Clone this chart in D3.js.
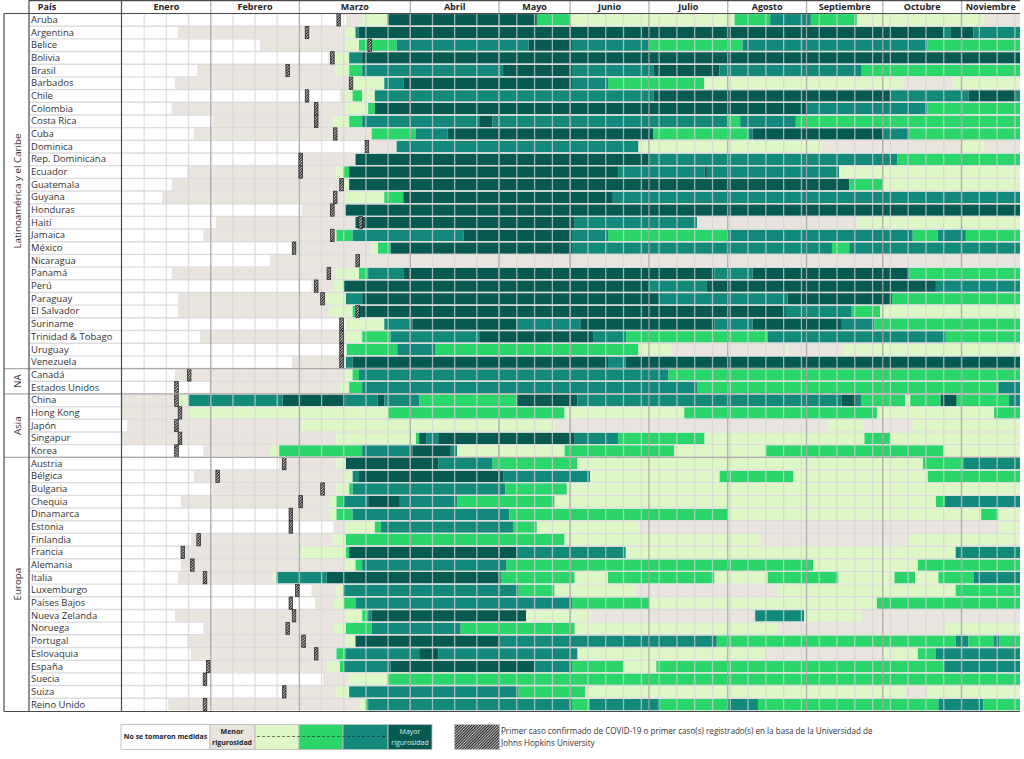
<!DOCTYPE html>
<html lang="es"><head><meta charset="utf-8">
<script src="https://cdn.jsdelivr.net/npm/d3@7/dist/d3.min.js"></script>
<style>html,body{margin:0;padding:0;background:#fff}svg{display:block}text{font-family:"Open Sans","Noto Sans",sans-serif}</style>
</head><body><svg id="c" width="1024" height="759"></svg>
<script>
const monthNames=["Enero","Febrero","Marzo","Abril","Mayo","Junio","Julio","Agosto","Septiembre","Octubre","Noviembre"];
const monthStarts=[0,28,56,91,119,147,178,209,240,270,301];
const lastDay=324;
const groups=[["Latinoamérica y el Caribe",28],["NA",2],["Asia",5],["Europa",20]];
const countries=["Aruba","Argentina","Belice","Bolivia","Brasil","Barbados","Chile","Colombia","Costa Rica","Cuba","Dominica","Rep. Dominicana","Ecuador","Guatemala","Guyana","Honduras","Haití","Jamaica","México","Nicaragua","Panamá","Perú","Paraguay","El Salvador","Suriname","Trinidad & Tobago","Uruguay","Venezuela","Canadá","Estados Unidos","China","Hong Kong","Japón","Singapur","Korea","Austria","Bélgica","Bulgaria","Chequia","Dinamarca","Estonia","Finlandia","Francia","Alemania","Italia","Luxemburgo","Países Bajos","Nueva Zelanda","Noruega","Portugal","Eslovaquia","España","Suecia","Suiza","Reino Unido"];
const firstCase=[68.4,58.4,78.2,66.4,52.3,72.3,58.4,61.3,61.3,67.3,77.3,56.4,56.4,69.3,67.3,66.4,75.3,66.4,54.3,74.4,65.3,61.3,63.3,74.4,69.3,69.3,69.3,69.3,21.2,17.2,17.2,18.3,17.2,18.3,17.2,51.2,30.2,63.3,56.4,53.3,53.3,24.2,19.2,22.2,26.2,55.3,53.3,54.3,52.3,57.3,61.3,27.2,26.2,51.2,26.2];
// level per stretch: [first day, level] — 0 none, 1 lowest ... 5 highest
const stringency=[
[[0,0],[70.7,1],[75.8,2],[83.8,5],[133.9,3],[147,2],[211.7,3],[225.7,4],[241.7,3],[259.8,2],[309.7,1]],
[[0,0],[17.6,1],[70.6,2],[73.7,4],[74.7,5],[294,4],[296.8,5],[305.7,4]],
[[0,0],[43.6,1],[70.6,2],[74.8,3],[86.7,4],[130.7,5],[147.7,4],[178,3],[214.8,4],[287.6,3]],
[[0,0],[65.1,1],[67.4,2],[71.7,4],[75.8,5]],
[[0,0],[23.7,1],[67.7,2],[71.7,3],[75.8,4],[120.6,5],[147.7,4],[179.8,5],[205.8,4],[261.7,3]],
[[0,0],[16.7,1],[73,2],[82.8,4],[88.8,5],[147.7,4],[161.9,3],[199.7,2],[277.8,1],[297.8,2]],
[[0,0],[68.8,1],[70.6,2],[72.8,3],[75.8,2],[79.8,4],[179.8,5],[272.9,4],[303.7,5],[322.7,4]],
[[0,0],[15.7,1],[70.6,2],[77.7,3],[79.8,5],[239.9,4],[287.6,3]],
[[0,0],[28.6,1],[66.7,2],[71.7,3],[75.8,4],[113,5],[117,4],[208.9,3],[213.9,4],[235.8,3]],
[[0,0],[22.6,1],[78.8,3],[92.8,4],[102.8,5],[179.8,3],[216.9,4],[218.8,5],[269.9,4],[280.4,3]],
[[0,0],[77.2,1],[86.7,4],[173.9,2],[246,1],[300.8,2],[309.6,1]],
[[0,0],[56.5,1],[73.7,5],[178,4],[275.8,3]],
[[0,0],[20.6,1],[67.7,2],[69.8,3],[71.7,5],[165.8,4],[199.9,5],[200.8,4],[252.8,2]],
[[0,0],[15.7,1],[69.8,2],[71.7,5],[256.8,3],[269.9,2]],
[[0,0],[12.7,1],[70.6,2],[82.8,3],[88.8,5],[163.8,4]],
[[0,0],[56.7,1],[70.6,5]],
[[0,0],[29.6,1],[73.7,5],[148.8,4],[196.9,1],[259.8,2]],
[[0,0],[25.7,1],[67.7,3],[72.8,4],[107.9,5],[147.7,4],[161.9,3],[208.9,4],[281.8,3],[291.6,4],[302.7,3]],
[[0,0],[54.6,1],[78.8,2],[80.8,3],[84.8,5],[147.7,4],[250,3],[256.8,4]],
[[0,0],[46.7,1]],
[[0,0],[15.7,1],[67.7,2],[74.8,3],[77.7,4],[88.8,5],[203.7,4],[218.8,5],[280.4,3]],
[[0,0],[59.8,1],[66.9,2],[70,5],[178.1,4],[200.8,5],[290.9,4]],
[[0,0],[17.6,1],[64.4,2],[70.7,4],[75.8,5],[182,4],[232.6,5],[273.6,3]],
[[0,0],[17.6,1],[65.6,2],[72.8,3],[73.8,5],[231.9,4],[257.8,3],[269,2]],
[[0,0],[70.6,2],[82.8,4],[91.7,5],[126,4],[151,5],[203.7,4],[218.8,5],[253.9,4],[266.7,3]],
[[0,0],[24.6,1],[70.6,2],[75.8,3],[84.8,4],[113,5],[156,4],[169,3],[224.7,4],[294.8,3]],
[[0,0],[70.9,3],[86.9,4],[98.8,3],[173.9,2],[187,1],[232,2],[232.9,1],[254.8,2]],
[[0,0],[53.7,1],[70.7,4],[72.8,5],[161.9,4],[168.9,5]],
[[0,0],[16.7,1],[70.6,2],[72.8,3],[74.8,4],[185.7,3]],
[[0,0],[27.6,1],[68.8,2],[71.7,3],[75.8,4],[196.9,3],[315.5,4]],
[[0,1],[17.2,2],[20.9,4],[50.7,5],[70.6,4],[80.7,5],[82.8,4],[93.8,3],[126,5],[149.9,4],[253.9,5],[259.8,4],[261.7,3],[278.8,2],[280.8,3],[292.8,5],[299.1,3],[319.7,4]],
[[0,1],[20.7,2],[84,3],[144.8,2],[191.9,3],[267.7,2],[313.8,3]],
[[0,0],[1.6,1],[56.7,2],[140.9,1],[248.6,2],[262.7,1],[281.8,2]],
[[0,1],[67.7,2],[92.8,3],[93.8,5],[96,4],[99.8,5],[148.8,4],[165.8,3],[199.9,2],[262.8,3],[272.9,2]],
[[0,0],[25.7,1],[46.7,2],[49.6,3],[75.8,4],[91.7,5],[103.8,4],[105.8,2],[144.8,3],[187.9,2],[224,3],[293.9,2]],
[[0,0],[49.6,1],[67.7,2],[70.7,5],[99.8,4],[117,3],[149.9,2],[285.8,3],[301.7,4]],
[[0,0],[22.6,1],[69.8,2],[72.8,4],[74.8,5],[120.6,4],[154.9,2],[205.8,3],[234.9,2],[287.7,3]],
[[0,0],[28.6,1],[67.7,2],[71.7,3],[72.8,4],[121.5,3],[145.7,2]],
[[0,0],[18.6,1],[65.6,2],[67.7,3],[69.8,4],[77.7,5],[87.7,4],[105.8,3],[140.9,2],[290.9,3],[294.5,4]],
[[0,0],[53.3,1],[65.6,2],[67.7,3],[72.8,4],[123,3],[208.9,2],[308.7,3],[315.5,2]],
[[0,0],[66.7,1],[70.6,2],[79.8,3],[81.7,4],[124.5,3],[133.9,2],[173.9,1],[315.8,2]],
[[0,0],[21.8,1],[66.7,2],[70.7,3],[144.8,2],[221.8,1],[279.8,2]],
[[0,0],[19.9,1],[56.7,2],[70.7,3],[71.7,5],[126,4],[168.9,2],[298.7,4]],
[[0,0],[18.6,1],[70.6,2],[73.7,3],[75.8,4],[122,3],[242.7,2],[283.8,3]],
[[0,0],[17.6,1],[47.7,2],[48.8,4],[64.6,5],[119.7,3],[148.8,2],[161.9,3],[203.8,2],[224.7,3],[252.6,2],[274.6,3],[282.7,2],[291.9,3],[305.7,4]],
[[0,0],[59.8,1],[67.7,2],[69.8,4],[126.7,3],[140.9,2],[173,1],[228.7,2],[298.7,3]],
[[0,0],[60.9,1],[66.9,2],[70,3],[73.7,4],[147.7,3],[178,2],[267.7,3]],
[[0,0],[16.7,1],[70.6,2],[75.8,3],[77.7,4],[78.8,5],[129.7,2],[154.9,1],[219.8,4],[239.1,2],[261.7,1]],
[[0,0],[25.7,1],[66.9,2],[70.7,3],[78.8,4],[106.9,3],[148.8,2],[228.7,1],[294.8,2]],
[[0,0],[20.6,1],[70.6,2],[73.7,5],[119.7,4],[204.7,3],[298.7,4],[303.7,3],[313.8,4],[315.8,3],[321.4,4],[322.3,3]],
[[0,0],[21.7,1],[67.7,3],[70.7,4],[93.8,5],[99.8,4],[149.9,2],[224,1],[269.9,2],[283.8,3],[290.9,4]],
[[0,0],[26.7,1],[64.8,2],[68.8,3],[69.8,4],[84.8,5],[132.9,4],[147.7,3],[168,2],[180.9,3],[294.1,4]],
[[0,0],[63.5,1],[71.7,2],[83.8,3]],
[[0,0],[51.7,1],[67.7,2],[71.7,4],[126.7,3],[153,2],[278.8,1],[287.7,2]],
[[0,0],[14.6,1],[74.8,2],[76.9,3],[77.7,4],[147.7,3],[154.6,4],[182.4,3],[209,4],[220.9,3],[291.9,4],[309.6,3]]
];
const levelColors=["#ffffff","#e9e4de","#ddf7c6","#2ad66a","#13897b","#065a52"];
const legendLevels=[0,1,2,3,4,5];
const legendText="Primer caso confirmado de COVID-19 o primer caso(s) registrado(s) en la basa de la Universidad de";
const legendText2="Johns Hopkins University";

const svg=d3.select("#c");
const top0=13.5, step=12.68, left=122;
const x=d3.scaleLinear().domain([0,119,lastDay]).range([left,499,1020]);
const y=d3.scaleBand().domain(countries).range([top0,top0+step*countries.length]);
const defs=svg.append("defs");
const p=defs.append("pattern").attr("id","hatch").attr("patternUnits","userSpaceOnUse").attr("width",2).attr("height",2).attr("patternTransform","rotate(45)");
p.append("rect").attr("width",2).attr("height",2).attr("fill","#dcdcdc");
p.append("rect").attr("width",1.15).attr("height",2).attr("fill","#222");

// bars
const rows=svg.append("g").selectAll("g").data(countries).join("g").attr("transform",c=>`translate(0,${y(c)})`);
rows.each(function(c,i){
  const segs=stringency[i];
  d3.select(this).selectAll("rect").data(segs).join("rect")
    .attr("x",d=>x(d[0])).attr("y",0.6)
    .attr("width",(d,j)=>x(j+1<segs.length?segs[j+1][0]:lastDay)-x(d[0]))
    .attr("height",step-1.2)
    .attr("fill",d=>levelColors[d[1]]);
});
// horizontal rules
svg.append("g").selectAll("line").data(d3.range(1,countries.length)).join("line")
  .attr("x1",29).attr("x2",1020).attr("y1",i=>top0+i*step).attr("y2",i=>top0+i*step)
  .attr("stroke","#dcdcdc").attr("stroke-width",1.4);
// week grid
svg.append("g").selectAll("line").data(d3.range(7,lastDay,7)).join("line")
  .attr("x1",d=>x(d)).attr("x2",d=>x(d)).attr("y1",top0).attr("y2",711.5)
  .attr("stroke","#d4d4d4").attr("stroke-opacity",.72).attr("stroke-width",1.3);
// month grid
svg.append("g").selectAll("line").data(monthStarts.slice(1)).join("line")
  .attr("x1",d=>x(d)).attr("x2",d=>x(d)).attr("y1",0).attr("y2",711.5)
  .attr("stroke","#a8a8a8").attr("stroke-opacity",.9).attr("stroke-width",1.3);
// first-case markers
svg.append("g").selectAll("rect").data(firstCase).join("rect")
  .attr("x",d=>x(d)-1.8).attr("width",3.6).attr("y",(d,i)=>y(countries[i])+.2).attr("height",step-.4)
  .attr("fill","url(#hatch)").attr("stroke","#222").attr("stroke-width",.7);
// group separators & frame
let acc=0;
const groupTops=groups.map(g=>{const t=acc;acc+=g[1];return t;});
svg.append("g").selectAll("line").data(groupTops.slice(1)).join("line")
  .attr("x1",4).attr("x2",1020).attr("y1",t=>top0+t*step).attr("y2",t=>top0+t*step)
  .attr("stroke","#aaaaaa").attr("stroke-width",1.2);
const dark="#4a4a4a";
const fr=svg.append("g").attr("stroke",dark).attr("stroke-width",1.2);
fr.append("line").attr("x1",29).attr("x2",1020).attr("y1",.6).attr("y2",.6);
fr.append("line").attr("x1",4).attr("x2",1020).attr("y1",top0).attr("y2",top0);
fr.append("line").attr("x1",4).attr("x2",1020).attr("y1",711.5).attr("y2",711.5);
fr.append("line").attr("x1",4).attr("x2",4).attr("y1",top0).attr("y2",711.5);
fr.append("line").attr("x1",29).attr("x2",29).attr("y1",0).attr("y2",711.5);
fr.append("line").attr("x1",121.5).attr("x2",121.5).attr("y1",0).attr("y2",711.5);
// labels
svg.append("g").selectAll("text").data(countries).join("text")
  .attr("x",31).attr("y",c=>y(c)+step/2+3).attr("font-size",9.5).attr("fill","#333").text(c=>c);
svg.append("text").attr("x",47).attr("y",10.2).attr("text-anchor","middle").attr("font-size",9).attr("font-weight",700).attr("fill","#222").text("País");
svg.append("g").selectAll("text").data(monthNames).join("text")
  .attr("x",(m,i)=>(x(monthStarts[i])+x(i+1<monthStarts.length?monthStarts[i+1]:lastDay))/2).attr("y",10.2)
  .attr("text-anchor","middle").attr("font-size",9).attr("font-weight",700).attr("fill","#222").text(m=>m);
svg.append("g").selectAll("text").data(groups).join("text")
  .attr("transform",(g,i)=>`translate(20.5,${top0+(groupTops[i]+g[1]/2)*step}) rotate(-90)`)
  .attr("text-anchor","middle").attr("font-size",9.8).attr("fill","#333").text(g=>g[0]);
// legend
const lx=d3.scaleOrdinal().domain(legendLevels).range([121,210,255,299,343,388]);
const lw=[89,45,44,44,45,44];
const lg=svg.append("g");
lg.selectAll("rect").data(legendLevels).join("rect")
  .attr("x",l=>lx(l)).attr("y",724.5).attr("width",(l,i)=>lw[i]).attr("height",25)
  .attr("fill",l=>levelColors[l]).attr("stroke","#bdbdbd").attr("stroke-width",.9);
defs.append("marker").attr("id","arr").attr("markerWidth",4).attr("markerHeight",4).attr("refX",3).attr("refY",2).attr("orient","auto")
  .append("path").attr("d","M0,0L4,2L0,4Z").attr("fill","#222");
lg.append("line").attr("x1",257).attr("x2",385).attr("y1",736.5).attr("y2",736.5).attr("stroke","#222").attr("stroke-width",.6).attr("stroke-dasharray","3 2").attr("marker-end","url(#arr)");
const lt=(t,cx,yy,col,w)=>lg.append("text").attr("x",cx).attr("y",yy).attr("text-anchor","middle").attr("font-size",7).attr("font-weight",w).attr("fill",col).text(t);
lt("No se tomaron medidas",165.5,739,"#222",700);
lt("Menor",232,733.5,"#222",700);
lt("rigurosidad",232,745,"#222",700);
lt("Mayor",410,733.5,"#dfeee8",400);
lt("rigurosidad",410,745,"#dfeee8",400);
lg.append("rect").attr("x",454.5).attr("y",724.5).attr("width",45).attr("height",25).attr("fill","url(#hatch)").attr("stroke","#bdbdbd").attr("stroke-width",.6);
lg.append("text").attr("x",501).attr("y",733.5).attr("font-size",8.1).attr("fill","#333").text(legendText);
lg.append("text").attr("x",501).attr("y",745.5).attr("font-size",8.1).attr("fill","#333").text(legendText2);
</script></body></html>
